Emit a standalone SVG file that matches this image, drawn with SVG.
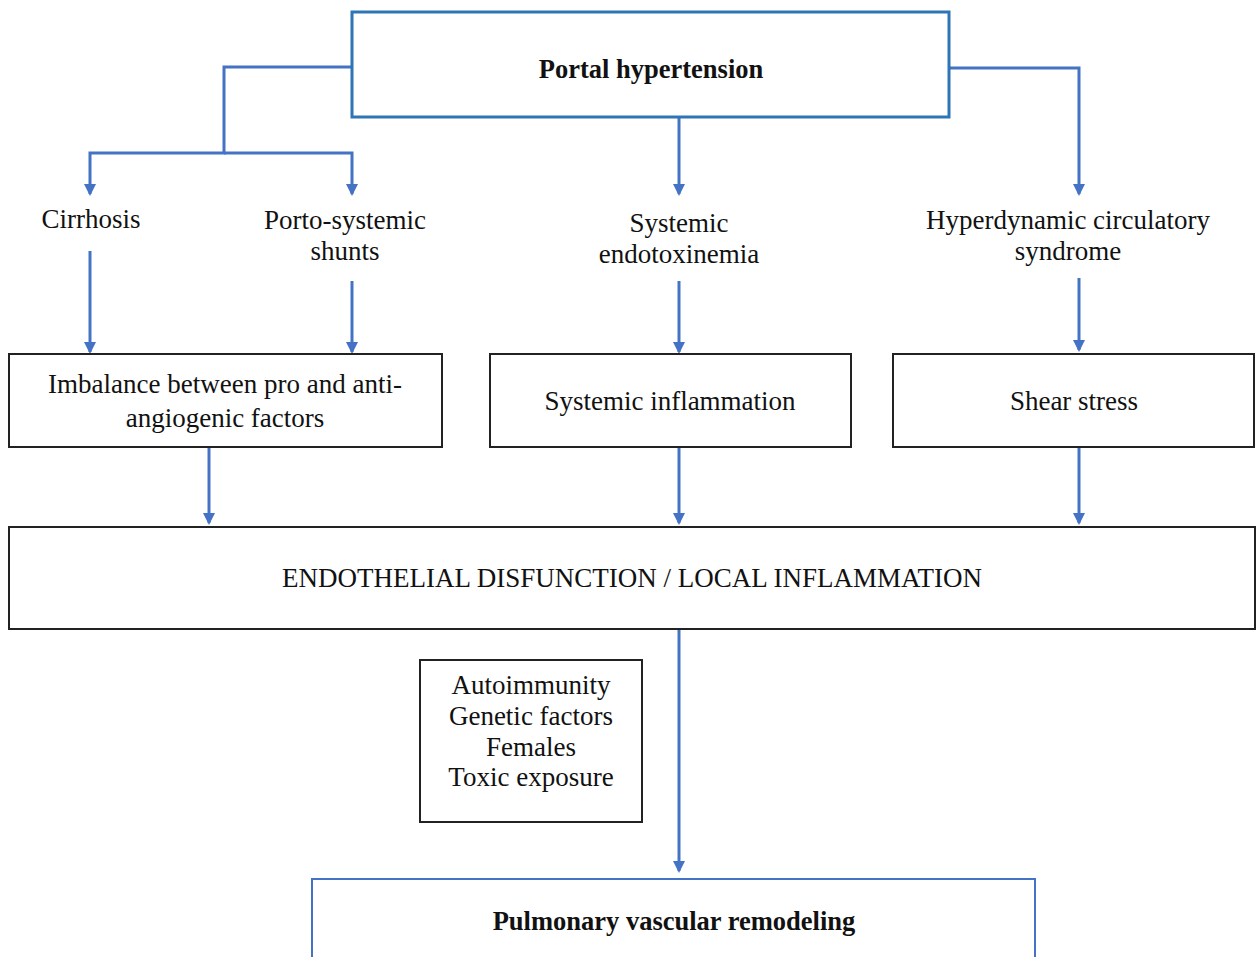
<svg xmlns="http://www.w3.org/2000/svg" width="1256" height="957" viewBox="0 0 1256 957">
<defs>
<marker id="ah" markerWidth="12" markerHeight="12" refX="10" refY="6" orient="auto" markerUnits="userSpaceOnUse">
<path d="M0,0 L12,6 L0,12 z" fill="#4472c4"/>
</marker>
</defs>
<style>
.t{font-size:27px}
.b{font-size:26.5px;font-weight:bold}
.box{fill:#fff;stroke:#222;stroke-width:2}
.bbox{fill:#fff;stroke:#2e75b6;stroke-width:3}
.con{fill:none;stroke:#4472c4;stroke-width:3}
</style>
<rect width="1256" height="957" fill="#fff"/>
<g id="connectors">
<path class="con" d="M352,67 H224 V153 H90 V194" marker-end="url(#ah)"/>
<path class="con" d="M224,153 H352 V194" marker-end="url(#ah)"/>
<path class="con" d="M679,117 V194" marker-end="url(#ah)"/>
<path class="con" d="M949,68 H1079 V194" marker-end="url(#ah)"/>
<path class="con" d="M90,251 V352" marker-end="url(#ah)"/>
<path class="con" d="M352,281 V352" marker-end="url(#ah)"/>
<path class="con" d="M679,281 V352" marker-end="url(#ah)"/>
<path class="con" d="M1079,278 V350" marker-end="url(#ah)"/>
<path class="con" d="M209,447 V523" marker-end="url(#ah)"/>
<path class="con" d="M679,447 V523" marker-end="url(#ah)"/>
<path class="con" d="M1079,447 V523" marker-end="url(#ah)"/>
<path class="con" d="M679,629 V871" marker-end="url(#ah)"/>
</g>
<g font-family="'Liberation Serif', 'DejaVu Serif', serif" fill="#111" text-anchor="middle">
<g id="portal">
<rect class="bbox" x="352" y="12" width="597" height="105"/>
<text class="b" x="651" y="78">Portal hypertension</text>
</g>
<g id="cirrhosis"><text class="t" x="91" y="228">Cirrhosis</text></g>
<g id="shunts"><text class="t" x="345" y="229">Porto-systemic</text><text class="t" x="345" y="260">shunts</text></g>
<g id="endotox"><text class="t" x="679" y="232">Systemic</text><text class="t" x="679" y="263">endotoxinemia</text></g>
<g id="hyper"><text class="t" x="1068" y="229">Hyperdynamic circulatory</text><text class="t" x="1068" y="260">syndrome</text></g>
<g id="imbalance">
<rect class="box" x="9" y="354" width="433" height="93"/>
<text class="t" x="225" y="393">Imbalance between pro and anti-</text>
<text class="t" x="225" y="427">angiogenic factors</text>
</g>
<g id="sysinfl">
<rect class="box" x="490" y="354" width="361" height="93"/>
<text class="t" x="670" y="410">Systemic inflammation</text>
</g>
<g id="shear">
<rect class="box" x="893" y="354" width="361" height="93"/>
<text class="t" x="1074" y="410">Shear stress</text>
</g>
<g id="endothelial">
<rect class="box" x="9" y="527" width="1246" height="102"/>
<text class="t" x="632" y="587">ENDOTHELIAL DISFUNCTION / LOCAL INFLAMMATION</text>
</g>
<g id="risk">
<rect class="box" x="420" y="660" width="222" height="162"/>
<text class="t" x="531" y="694">Autoimmunity</text>
<text class="t" x="531" y="725">Genetic factors</text>
<text class="t" x="531" y="756">Females</text>
<text class="t" x="531" y="786">Toxic exposure</text>
</g>
<g id="pulmonary">
<rect fill="#fff" stroke="#4472c4" stroke-width="2" x="312" y="879" width="723" height="90"/>
<text class="b" x="674" y="930" font-size="27.5">Pulmonary vascular remodeling</text>
</g>
</g>
</svg>
